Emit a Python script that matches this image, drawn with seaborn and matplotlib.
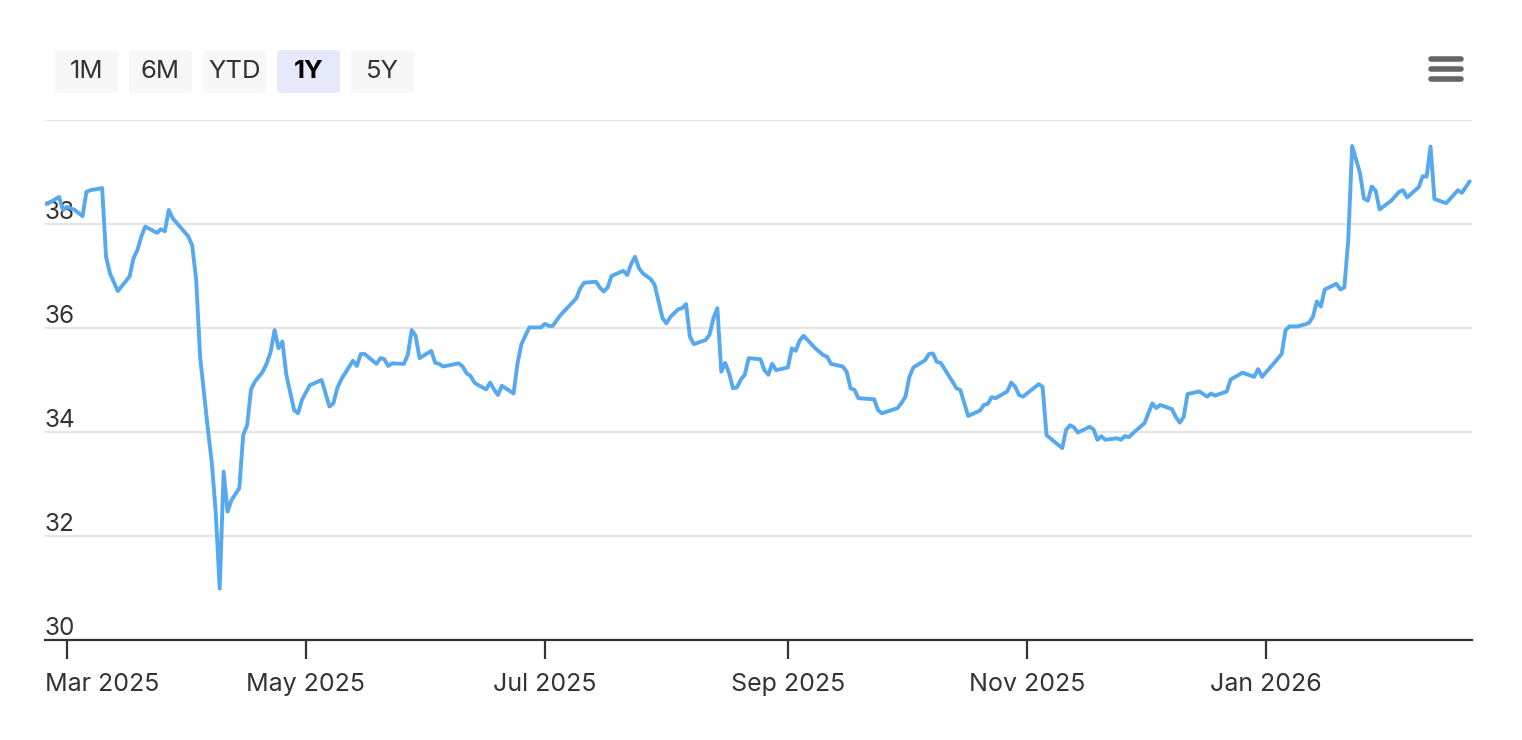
import pandas as pd
import matplotlib.pyplot as plt
import matplotlib.dates as mdates
from matplotlib.patches import FancyBboxPatch
from matplotlib.transforms import ScaledTranslation
import seaborn as sns

dates = [
    "2025-02-23", "2025-02-25", "2025-02-27", "2025-02-28", "2025-03-01", "2025-03-03",
    "2025-03-05", "2025-03-06", "2025-03-07", "2025-03-10", "2025-03-11", "2025-03-12",
    "2025-03-14", "2025-03-17", "2025-03-18", "2025-03-19", "2025-03-20", "2025-03-21",
    "2025-03-24", "2025-03-25", "2025-03-26", "2025-03-27", "2025-03-28", "2025-04-01",
    "2025-04-02", "2025-04-03", "2025-04-04", "2025-04-05", "2025-04-06", "2025-04-07",
    "2025-04-08", "2025-04-09", "2025-04-10", "2025-04-11", "2025-04-12", "2025-04-14",
    "2025-04-15", "2025-04-16", "2025-04-17", "2025-04-18", "2025-04-20", "2025-04-21",
    "2025-04-22", "2025-04-23", "2025-04-24", "2025-04-25", "2025-04-26", "2025-04-28",
    "2025-04-29", "2025-04-30", "2025-05-02", "2025-05-05", "2025-05-07", "2025-05-08",
    "2025-05-09", "2025-05-10", "2025-05-13", "2025-05-14", "2025-05-15", "2025-05-16",
    "2025-05-19", "2025-05-20", "2025-05-21", "2025-05-22", "2025-05-23", "2025-05-26",
    "2025-05-27", "2025-05-28", "2025-05-29", "2025-05-30", "2025-06-02", "2025-06-03",
    "2025-06-04", "2025-06-05", "2025-06-09", "2025-06-10", "2025-06-11", "2025-06-12",
    "2025-06-13", "2025-06-14", "2025-06-16", "2025-06-17", "2025-06-18", "2025-06-19",
    "2025-06-20", "2025-06-23", "2025-06-24", "2025-06-25", "2025-06-26", "2025-06-27",
    "2025-06-30", "2025-07-01", "2025-07-02", "2025-07-03", "2025-07-04", "2025-07-05",
    "2025-07-07", "2025-07-08", "2025-07-09", "2025-07-10", "2025-07-11", "2025-07-14",
    "2025-07-15", "2025-07-16", "2025-07-17", "2025-07-18", "2025-07-21", "2025-07-22",
    "2025-07-23", "2025-07-24", "2025-07-25", "2025-07-26", "2025-07-28", "2025-07-29",
    "2025-07-30", "2025-07-31", "2025-08-01", "2025-08-02", "2025-08-04", "2025-08-05",
    "2025-08-06", "2025-08-07", "2025-08-08", "2025-08-11", "2025-08-12", "2025-08-13",
    "2025-08-14", "2025-08-15", "2025-08-16", "2025-08-17", "2025-08-18", "2025-08-19",
    "2025-08-20", "2025-08-21", "2025-08-22", "2025-08-25", "2025-08-26", "2025-08-27",
    "2025-08-28", "2025-08-29", "2025-09-01", "2025-09-02", "2025-09-03", "2025-09-04",
    "2025-09-05", "2025-09-06", "2025-09-08", "2025-09-10", "2025-09-11", "2025-09-12",
    "2025-09-15", "2025-09-16", "2025-09-17", "2025-09-18", "2025-09-19", "2025-09-23",
    "2025-09-24", "2025-09-25", "2025-09-29", "2025-09-30", "2025-10-01", "2025-10-02",
    "2025-10-03", "2025-10-06", "2025-10-07", "2025-10-08", "2025-10-09", "2025-10-10",
    "2025-10-13", "2025-10-14", "2025-10-15", "2025-10-17", "2025-10-20", "2025-10-21",
    "2025-10-22", "2025-10-23", "2025-10-24", "2025-10-27", "2025-10-28", "2025-10-29",
    "2025-10-30", "2025-10-31", "2025-11-04", "2025-11-05", "2025-11-06", "2025-11-10",
    "2025-11-11", "2025-11-12", "2025-11-13", "2025-11-14", "2025-11-17", "2025-11-18",
    "2025-11-19", "2025-11-20", "2025-11-21", "2025-11-24", "2025-11-25", "2025-11-26",
    "2025-11-27", "2025-11-29", "2025-12-01", "2025-12-03", "2025-12-04", "2025-12-05",
    "2025-12-08", "2025-12-09", "2025-12-10", "2025-12-11", "2025-12-12", "2025-12-15",
    "2025-12-17", "2025-12-18", "2025-12-19", "2025-12-22", "2025-12-23", "2025-12-26",
    "2025-12-29", "2025-12-30", "2025-12-31", "2026-01-03", "2026-01-05", "2026-01-06",
    "2026-01-07", "2026-01-09", "2026-01-11", "2026-01-12", "2026-01-13", "2026-01-14",
    "2026-01-15", "2026-01-16", "2026-01-19", "2026-01-20", "2026-01-21", "2026-01-22",
    "2026-01-23", "2026-01-25", "2026-01-26", "2026-01-27", "2026-01-28", "2026-01-29",
    "2026-01-30", "2026-02-02", "2026-02-04", "2026-02-05", "2026-02-06", "2026-02-09",
    "2026-02-10", "2026-02-11", "2026-02-12", "2026-02-13", "2026-02-16", "2026-02-19",
    "2026-02-20", "2026-02-22",
]

prices = [
    38.37, 38.43, 38.52, 38.27, 38.33, 38.27,
    38.15, 38.62, 38.65, 38.69, 37.37, 37.05,
    36.71, 36.99, 37.34, 37.50, 37.76, 37.95,
    37.83, 37.90, 37.86, 38.27, 38.11, 37.76,
    37.58, 36.92, 35.45, 34.74, 34.04, 33.40,
    32.44, 30.99, 33.24, 32.47, 32.69, 32.92,
    33.94, 34.13, 34.82, 34.97, 35.16, 35.32,
    35.54, 35.96, 35.61, 35.74, 35.10, 34.42,
    34.36, 34.62, 34.90, 35.00, 34.49, 34.55,
    34.84, 35.01, 35.37, 35.27, 35.50, 35.50,
    35.31, 35.42, 35.40, 35.27, 35.32, 35.31,
    35.48, 35.96, 35.85, 35.42, 35.56, 35.33,
    35.31, 35.26, 35.32, 35.26, 35.13, 35.08,
    34.95, 34.90, 34.82, 34.95, 34.82, 34.71,
    34.89, 34.74, 35.32, 35.69, 35.85, 36.01,
    36.01, 36.08, 36.04, 36.04, 36.15, 36.25,
    36.41, 36.49, 36.57, 36.76, 36.87, 36.89,
    36.78, 36.70, 36.78, 37.00, 37.10, 37.02,
    37.23, 37.37, 37.15, 37.05, 36.94, 36.83,
    36.51, 36.19, 36.09, 36.21, 36.36, 36.38,
    36.46, 35.83, 35.69, 35.77, 35.87, 36.19,
    36.38, 35.16, 35.33, 35.13, 34.84, 34.86,
    35.01, 35.10, 35.42, 35.40, 35.19, 35.10,
    35.31, 35.19, 35.24, 35.61, 35.56, 35.76,
    35.85, 35.77, 35.61, 35.48, 35.45, 35.31,
    35.26, 35.16, 34.84, 34.81, 34.65, 34.63,
    34.42, 34.36, 34.46, 34.56, 34.68, 35.06,
    35.24, 35.38, 35.50, 35.51, 35.35, 35.33,
    34.97, 34.84, 34.81, 34.31, 34.41, 34.52,
    34.54, 34.67, 34.65, 34.78, 34.95, 34.87,
    34.71, 34.68, 34.92, 34.87, 33.94, 33.69,
    34.04, 34.13, 34.09, 33.99, 34.10, 34.05,
    33.85, 33.92, 33.85, 33.88, 33.85, 33.92,
    33.90, 34.04, 34.17, 34.55, 34.46, 34.52,
    34.44, 34.29, 34.18, 34.29, 34.73, 34.78,
    34.68, 34.74, 34.70, 34.78, 35.01, 35.14,
    35.06, 35.21, 35.06, 35.32, 35.50, 35.96,
    36.03, 36.03, 36.07, 36.10, 36.22, 36.51,
    36.41, 36.74, 36.85, 36.74, 36.78, 37.69,
    39.50, 38.98, 38.49, 38.45, 38.72, 38.64,
    38.28, 38.45, 38.62, 38.65, 38.51, 38.71,
    38.92, 38.91, 39.49, 38.48, 38.40, 38.65,
    38.60, 38.82,
]

range_buttons = ["1M", "6M", "YTD", "1Y", "5Y"]
active_button = "1Y"
y_ticks = [30, 32, 34, 36, 38, 40]
y_tick_labels = ["30", "32", "34", "36", "38", ""]

df = pd.DataFrame({"date": pd.to_datetime(dates), "price": prices})

sns.set_theme(style="white")
plt.rcParams["font.family"] = ["Inter", "DejaVu Sans"]

W, H = 1522, 740
fig = plt.figure(figsize=(W / 100, H / 100), dpi=100)
ax = fig.add_axes([45 / W, 1 - 640 / H, (1472 - 45) / W, (640 - 120) / H])

sns.lineplot(data=df, x="date", y="price", ax=ax, color="#56a8ef", linewidth=2.8)

ax.set_xlim(pd.Timestamp("2025-02-23 10:00"), pd.Timestamp("2026-02-22 14:00"))
ax.set_ylim(30, 40)
ax.set_xlabel("")
ax.set_ylabel("")

# gridlines
ax.set_yticks(y_ticks)
ax.set_yticklabels(y_tick_labels)
ax.yaxis.grid(True, color="#e6e6e6", linewidth=1.6)
ax.xaxis.grid(False)
for side in ["left", "right", "top"]:
    ax.spines[side].set_visible(False)
ax.spines["bottom"].set_color("#333333")
ax.spines["bottom"].set_linewidth(1.6)
ax.spines["bottom"].set_zorder(3)

# y labels sit inside the plot, above the gridlines
ax.tick_params(axis="y", length=0, pad=0, labelsize=17.5, labelcolor="#333333")
for lab in ax.get_yticklabels():
    lab.set_horizontalalignment("left")
    lab.set_verticalalignment("baseline")
    lab.set_transform(lab.get_transform() + ScaledTranslation(0, 5 / 100, fig.dpi_scale_trans))

ax.xaxis.set_major_locator(mdates.MonthLocator(bymonth=[1, 3, 5, 7, 9, 11]))
ax.xaxis.set_major_formatter(mdates.DateFormatter("%b %Y"))
ax.tick_params(axis="x", bottom=True, length=13.5, width=1.6, color="#333333",
               pad=10.5, labelsize=18, labelcolor="#333333")
fig.canvas.draw()
first = ax.get_xticklabels()[0]
first.set_horizontalalignment("left")
first.set_transform(first.get_transform() + ScaledTranslation(-22 / 100, 0, fig.dpi_scale_trans))

# range selector buttons
x0 = 55
for name in range_buttons:
    active = name == active_button
    box = FancyBboxPatch((x0 / W, 1 - 93 / H), 63 / W, 43 / H,
                         boxstyle="round,pad=0,rounding_size=0.004",
                         transform=fig.transFigure, facecolor="#e6e9fb" if active else "#f7f7f7",
                         edgecolor="none")
    fig.patches.append(box)
    fig.text((x0 + 31.5) / W, 1 - 72 / H, name, ha="center", va="center", fontsize=18.5,
             color="#000000" if active else "#333333", fontweight="bold" if active else "normal")
    x0 += 74

# menu icon
for yy in [59, 69, 79]:
    fig.add_artist(plt.Line2D([1431 / W, 1461 / W], [1 - yy / H, 1 - yy / H],
                              transform=fig.transFigure, color="#666666",
                              linewidth=4, solid_capstyle="round"))

fig.savefig("out.png", dpi=100)
